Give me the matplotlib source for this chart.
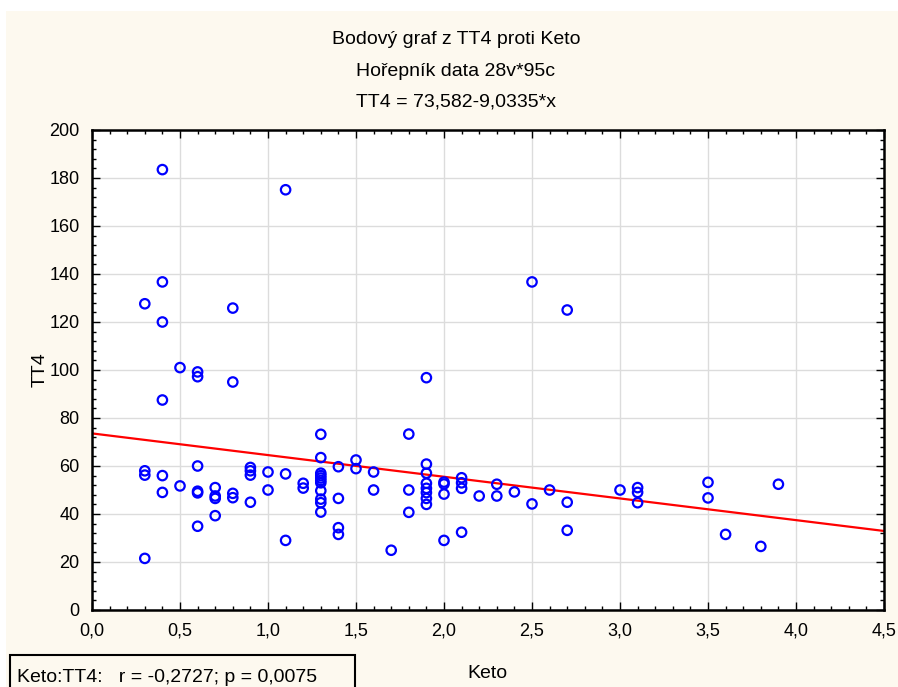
# scatter of TT4 against Keto with the fitted regression line
import numpy as np
import matplotlib
matplotlib.use('Agg')
import matplotlib.pyplot as plt
from matplotlib.patches import Rectangle
from matplotlib.ticker import MultipleLocator, FuncFormatter

# values
keto = [0.3, 0.3, 0.3, 0.3,
        0.4, 0.4, 0.4, 0.4, 0.4, 0.4,
        0.5, 0.5,
        0.6, 0.6, 0.6, 0.6, 0.6, 0.6,
        0.7, 0.7, 0.7, 0.7,
        0.8, 0.8, 0.8, 0.8,
        0.9, 0.9, 0.9, 0.9,
        1.0, 1.0,
        1.1, 1.1, 1.1,
        1.2, 1.2,
        1.3, 1.3, 1.3, 1.3, 1.3, 1.3, 1.3, 1.3, 1.3, 1.3, 1.3,
        1.4, 1.4, 1.4, 1.4,
        1.5, 1.5,
        1.6, 1.6,
        1.7,
        1.8, 1.8, 1.8,
        1.9, 1.9, 1.9, 1.9, 1.9, 1.9, 1.9, 1.9,
        2.0, 2.0, 2.0, 2.0,
        2.1, 2.1, 2.1, 2.1,
        2.2,
        2.3, 2.3,
        2.4,
        2.5, 2.5,
        2.6,
        2.7, 2.7, 2.7,
        3.0,
        3.1, 3.1, 3.1,
        3.5, 3.5,
        3.6,
        3.8,
        3.9]
tt4 = [127.6, 58.0, 56.2, 21.5,
       183.5, 136.7, 120.0, 87.5, 56.0, 49.0,
       101.0, 51.7,
       99.2, 97.2, 60.0, 49.5, 48.8, 34.9,
       51.0, 47.5, 46.5, 39.3,
       125.8, 95.0, 48.6, 46.8,
       59.4, 58.0, 56.2, 44.9,
       57.5, 50.0,
       175.1, 56.7, 29.0,
       52.8, 50.8,
       73.2, 63.5, 57.0, 56.0, 55.0, 54.0, 53.0, 49.7, 46.2, 44.7, 40.8,
       59.7, 46.5, 34.3, 31.5,
       62.5, 58.9,
       57.5, 50.0,
       24.9,
       73.3, 50.0, 40.7,
       96.8, 60.8, 57.0, 52.8, 50.7, 48.9, 46.5, 44.0,
       53.3, 52.5, 48.3, 29.0,
       55.1, 53.0, 50.7, 32.4,
       47.5,
       52.4, 47.5,
       49.2,
       136.7, 44.2,
       50.0,
       125.0, 44.9, 33.2,
       50.0,
       51.0, 49.0, 44.7,
       53.2, 46.7,
       31.5,
       26.5,
       52.4]

# regression from the chart subtitle
intercept = 73.582
slope = -9.0335

titles = ['Bodový graf z TT4 proti Keto', 'Hořepník data 28v*95c',
          'TT4 = 73,582-9,0335*x']
stat_text = 'Keto:TT4:   r = -0,2727; p = 0,0075'

W, H = 898, 687
cream = '#fdf9ef'
font = ['Liberation Sans', 'DejaVu Sans']
txt_size = 14

fig = plt.figure(figsize=(W / 100, H / 100), dpi=100, facecolor='white')
# cream panel, leaving a thin white strip top and left like the original
fig.add_artist(Rectangle((6 / W, 0), 1, 1 - 11 / H, transform=fig.transFigure,
                         facecolor=cream, edgecolor='none', zorder=-10))

ax = fig.add_axes([92 / W, 1 - 610 / H, 792 / W, 480 / H])
ax.set_facecolor('white')

ax.grid(True, color='#dcdcdc', lw=1.0, zorder=0)
ax.set_axisbelow(True)

ax.scatter(keto, tt4, s=46, facecolors='none', edgecolors='#0000ff',
           linewidths=1.6, zorder=3)
xs = np.array([0.0, 4.5])
ax.plot(xs, intercept + slope * xs, color='#ff0000', lw=1.6, zorder=2)

ax.set_xlim(0, 4.5)
ax.set_ylim(0, 200)
ax.xaxis.set_major_locator(MultipleLocator(0.5))
ax.xaxis.set_minor_locator(MultipleLocator(0.1))
ax.yaxis.set_major_locator(MultipleLocator(20))
ax.yaxis.set_minor_locator(MultipleLocator(4))
ax.xaxis.set_major_formatter(FuncFormatter(lambda v, p: f'{v:.1f}'.replace('.', ',')))
ax.yaxis.set_major_formatter(FuncFormatter(lambda v, p: f'{v:.0f}'))

ax.tick_params(which='both', direction='in', top=True, right=True,
               color='black', width=1.0)
ax.tick_params(which='major', length=6, labelsize=13, pad=9)
ax.tick_params(which='minor', length=3)
for lab in ax.get_xticklabels() + ax.get_yticklabels():
    lab.set_family(font)
for sp in ax.spines.values():
    sp.set_linewidth(1.8)
    sp.set_color('black')

# titles above the frame
for i, t in enumerate(titles):
    fig.text(456 / W, 1 - (40 + 31 * i) / H, t, ha='center', va='center',
             fontsize=txt_size, family=font)

fig.text(40 / W, 1 - 370 / H, 'TT4', rotation=90, ha='center', va='center',
         fontsize=txt_size, family=font)
fig.text(487 / W, 1 - 673 / H, 'Keto', ha='center', va='center',
         fontsize=txt_size, family=font)

# correlation box at the bottom left, cut by the picture edge
fig.add_artist(Rectangle((10 / W, -0.02), 345 / W, 32 / H + 0.02,
                         transform=fig.transFigure, fill=False,
                         edgecolor='black', lw=1.5))
fig.text(17 / W, 1 - 677 / H, stat_text, ha='left', va='center',
         fontsize=txt_size, family=font)

fig.savefig('out.png', dpi=100, facecolor=fig.get_facecolor())
